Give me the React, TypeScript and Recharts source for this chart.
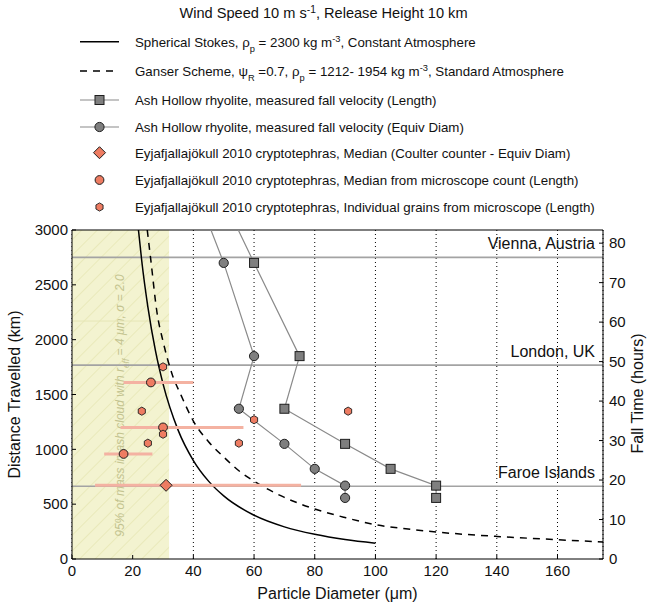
import React from 'react';
import {
  ComposedChart,
  Line,
  Scatter,
  XAxis,
  YAxis,
  CartesianGrid,
  ReferenceLine,
  ReferenceArea,
  ErrorBar,
  Legend,
} from 'recharts';

// ---------------- data ----------------
const xTicks = [0, 20, 40, 60, 80, 100, 120, 140, 160];
const kmTicks = [0, 500, 1000, 1500, 2000, 2500, 3000];
const hourTicks = [0, 10, 20, 30, 40, 50, 60, 70, 80];
const windKmPerHour = 36; // 10 m/s

// Spherical Stokes curve (solid)
const stokesDiam = [21.9, 23, 25, 27.5, 30, 35, 40, 45, 50, 60, 70, 80, 90, 100];
const stokesKm = [3000, 2715, 2300, 1900, 1597, 1173, 898, 710, 575, 399, 293, 225, 177, 144];

// Ganser scheme curve (dashed)
const ganserDiam = [24.8, 26, 28, 30, 33, 36, 40, 45, 50, 55, 60, 70, 80, 90, 100, 110, 120, 140, 160, 175];
const ganserKm = [3000, 2720, 2250, 1985, 1685, 1490, 1257, 1070, 930, 805, 709, 562, 456, 378, 313, 275, 246, 206, 176, 155];

// Ash Hollow rhyolite (Length) - squares; first entry is where the line leaves the top edge
const ashLenLineDiam = [54.8];
const ashLenLineKm = [3000];
const ashLenDiam = [60, 75, 70, 90, 105, 120, 120];
const ashLenKm = [2700, 1850, 1370, 1050, 822, 669, 557];

// Ash Hollow rhyolite (Equiv Diam) - circles
const ashEqLineDiam = [45.8];
const ashEqLineKm = [3000];
const ashEqDiam = [50, 60, 55, 70, 80, 90, 90];
const ashEqKm = [2700, 1850, 1370, 1050, 822, 669, 557];

// Eyjafjallajökull - Coulter counter median (diamond)
const coulterDiam = [31];
const coulterKm = [672];
const coulterLow = [7.6];
const coulterHigh = [75.5];

// Eyjafjallajökull - median from microscope count (circles)
const medianDiam = [26, 30, 17];
const medianKm = [1610, 1200, 958];
const medianLow = [17, 16, 10.6];
const medianHigh = [40, 56.5, 26.5];

// Eyjafjallajökull - individual grains (hexagons)
const grainDiam = [30, 23, 30, 25, 55, 60, 91];
const grainKm = [1752, 1348, 1138, 1056, 1056, 1270, 1348];

// Locations
const placeNames = ['Vienna, Austria', 'London, UK', 'Faroe Islands'];
const placeKm = [2750, 1768, 663];

// faint seam inside the shaded band
const bandMaxDiam = 32;
const bandSeamKm = 2170;

// ---------------- build records ----------------
const pts = (xs: number[], ys: number[]) => xs.map((x, i) => ({ x, y: ys[i] }));
const withErr = (xs: number[], ys: number[], lo: number[], hi: number[]) =>
  xs.map((x, i) => ({ x, y: ys[i], err: [x - lo[i], hi[i] - x] }));

const stokes = pts(stokesDiam, stokesKm);
const ganser = pts(ganserDiam, ganserKm);
const ashLenLine = pts([...ashLenLineDiam, ...ashLenDiam], [...ashLenLineKm, ...ashLenKm]);
const ashLen = pts(ashLenDiam, ashLenKm);
const ashEqLine = pts([...ashEqLineDiam, ...ashEqDiam], [...ashEqLineKm, ...ashEqKm]);
const ashEq = pts(ashEqDiam, ashEqKm);
const coulter = withErr(coulterDiam, coulterKm, coulterLow, coulterHigh);
const medians = withErr(medianDiam, medianKm, medianLow, medianHigh);
const grains = pts(grainDiam, grainKm);

// ---------------- styles ----------------
const SANS = '"Liberation Sans", Arial, Helvetica, sans-serif';
const ORANGE = '#EE7C62';
const EDGE = '#1e1e1e';
const GRAY_FILL = '#7f7f7f';
const GRAY_LINE = '#8a8a8a';
const ERR = '#F4B2A2';
const PLACE_LINE = '#a3a3a3';

const hexPath = (cx: number, cy: number, r: number) => {
  const p: string[] = [];
  for (let k = 0; k < 6; k++) {
    const a = Math.PI / 2 + (k * Math.PI) / 3;
    p.push(`${(cx + r * Math.cos(a)).toFixed(2)},${(cy - r * Math.sin(a)).toFixed(2)}`);
  }
  return 'M' + p.join('L') + 'Z';
};

const squareMark = (cx: number, cy: number) => (
  <rect x={cx - 4.5} y={cy - 4.5} width={9} height={9} fill={GRAY_FILL} stroke={EDGE} strokeWidth={1} />
);
const grayCircleMark = (cx: number, cy: number) => (
  <circle cx={cx} cy={cy} r={4.6} fill={GRAY_FILL} stroke={EDGE} strokeWidth={1} />
);
const diamondMark = (cx: number, cy: number) => (
  <path
    d={`M${cx},${cy - 6}L${cx + 6},${cy}L${cx},${cy + 6}L${cx - 6},${cy}Z`}
    fill={ORANGE}
    stroke={EDGE}
    strokeWidth={1}
  />
);
const medianMark = (cx: number, cy: number) => (
  <circle cx={cx} cy={cy} r={4.4} fill={ORANGE} stroke={EDGE} strokeWidth={1} />
);
const grainMark = (cx: number, cy: number) => (
  <path d={hexPath(cx, cy, 4.1)} fill={ORANGE} stroke={EDGE} strokeWidth={0.9} />
);

const shapeOf = (fn: (cx: number, cy: number) => React.ReactElement) => (props: any) => fn(props.cx, props.cy);

// ---------------- legend ----------------
const legendRows: { y: number; kind: string; text: React.ReactNode }[] = [
  {
    y: 41.7,
    kind: 'solid',
    text: (
      <>
        Spherical Stokes, ρ<tspan baselineShift="sub" fontSize="70%">p</tspan>
        <tspan> = 2300 kg m</tspan>
        <tspan baselineShift="super" fontSize="70%">-3</tspan>
        <tspan>, Constant Atmosphere</tspan>
      </>
    ),
  },
  {
    y: 71,
    kind: 'dashed',
    text: (
      <>
        Ganser Scheme, ψ<tspan baselineShift="sub" fontSize="70%">R</tspan>
        <tspan> =0.7, ρ</tspan>
        <tspan baselineShift="sub" fontSize="70%">p</tspan>
        <tspan> = 1212- 1954 kg m</tspan>
        <tspan baselineShift="super" fontSize="70%">-3</tspan>
        <tspan>, Standard Atmosphere</tspan>
      </>
    ),
  },
  { y: 100, kind: 'square', text: 'Ash Hollow rhyolite, measured fall velocity (Length)' },
  { y: 127, kind: 'circle', text: 'Ash Hollow rhyolite, measured fall velocity (Equiv Diam)' },
  { y: 152.7, kind: 'diamond', text: 'Eyjafjallajökull 2010 cryptotephras, Median (Coulter counter - Equiv Diam)' },
  { y: 180, kind: 'median', text: 'Eyjafjallajökull 2010 cryptotephras, Median from microscope count (Length)' },
  { y: 207, kind: 'hex', text: 'Eyjafjallajökull 2010 cryptotephras, Individual grains from microscope (Length)' },
];

const LegendBox = () => (
  <svg width={647} height={222} style={{ display: 'block' }}>
    <text x={323.5} y={18} textAnchor="middle" fontFamily={SANS} fontSize={14.6} fill="#111">
      Wind Speed 10 m s
      <tspan baselineShift="super" fontSize="70%">-1</tspan>
      <tspan>, Release Height 10 km</tspan>
    </text>
    {legendRows.map((r, i) => {
      const cy = r.y;
      let sym: React.ReactNode = null;
      if (r.kind === 'solid') sym = <line x1={80} x2={119} y1={cy} y2={cy} stroke="#000" strokeWidth={1.5} />;
      else if (r.kind === 'dashed')
        sym = <line x1={80} x2={119} y1={cy} y2={cy} stroke="#000" strokeWidth={1.5} strokeDasharray="7 6" />;
      else if (r.kind === 'square')
        sym = (
          <g>
            <line x1={80} x2={119} y1={cy} y2={cy} stroke={GRAY_LINE} strokeWidth={1.2} />
            {squareMark(99.5, cy)}
          </g>
        );
      else if (r.kind === 'circle')
        sym = (
          <g>
            <line x1={80} x2={119} y1={cy} y2={cy} stroke={GRAY_LINE} strokeWidth={1.2} />
            {grayCircleMark(99.5, cy)}
          </g>
        );
      else if (r.kind === 'diamond') sym = diamondMark(99.5, cy);
      else if (r.kind === 'median') sym = medianMark(99.5, cy);
      else sym = grainMark(99.5, cy);
      return (
        <g key={i}>
          {sym}
          <text x={135} y={cy + 4.8} fontFamily={SANS} fontSize={13.3} fill="#111">
            {r.text}
          </text>
        </g>
      );
    })}
  </svg>
);

// ---------------- labels ----------------
const placeLabel = (name: string) => (props: any) => {
  const vb = props.viewBox || {};
  return (
    <text x={vb.x + vb.width - 8} y={vb.y - 8.5} textAnchor="end" fontFamily={SANS} fontSize={16} fill="#111">
      {name}
    </text>
  );
};

const bandLabel = (props: any) => {
  const vb = props.viewBox || {};
  const cx = vb.x + 52;
  const cy = vb.y + vb.height / 2 + 11;
  return (
    <text
      x={cx}
      y={cy}
      transform={`rotate(-90, ${cx}, ${cy})`}
      textAnchor="middle"
      fontFamily={SANS}
      fontStyle="italic"
      fontSize={12}
      fill="#c3c38f"
    >
      95% of mass in ash cloud with r
      <tspan baselineShift="sub" fontSize="70%">eff</tspan>
      <tspan> = 4 μm, σ = 2.0</tspan>
    </text>
  );
};

const leftAxisLabel = (props: any) => {
  const vb = props.viewBox || {};
  const cx = 20;
  const cy = vb.y + vb.height / 2;
  return (
    <text x={cx} y={cy} transform={`rotate(-90, ${cx}, ${cy})`} textAnchor="middle" fontFamily={SANS} fontSize={16} fill="#111">
      Distance Travelled (km)
    </text>
  );
};

const rightAxisLabel = (props: any) => {
  const vb = props.viewBox || {};
  const cx = 643;
  const cy = vb.y + vb.height / 2 - 1;
  return (
    <text x={cx} y={cy} transform={`rotate(-90, ${cx}, ${cy})`} textAnchor="middle" fontFamily={SANS} fontSize={16} fill="#111">
      Fall Time (hours)
    </text>
  );
};

const bottomAxisLabel = (props: any) => {
  const vb = props.viewBox || {};
  return (
    <text x={vb.x + vb.width / 2} y={599} textAnchor="middle" fontFamily={SANS} fontSize={16} fill="#111">
      Particle Diameter (μm)
    </text>
  );
};

const tickStyle = { fontFamily: SANS, fontSize: 15, fill: '#111' };

export default function App() {
  return (
    <div style={{ position: 'absolute', left: 0, top: 0, width: 647, height: 608, background: '#fff' }}>
      <ComposedChart width={647} height={608} margin={{ top: 8, right: 0, bottom: 0, left: 0 }}>
        <defs>
          <pattern id="bandHatch" patternUnits="userSpaceOnUse" width={11} height={11} patternTransform="rotate(45)">
            <rect x={0} y={0} width={11} height={11} fill="#F3F3D0" />
            <line x1={0} y1={0} x2={0} y2={11} stroke="#E3E3AC" strokeWidth={1.2} />
          </pattern>
        </defs>
        <Legend
          verticalAlign="top"
          align="left"
          wrapperStyle={{ top: 0, left: 0, width: 647, height: 222 }}
          content={() => <LegendBox />}
        />
        <XAxis
          dataKey="x"
          type="number"
          domain={[0, 175]}
          ticks={xTicks}
          allowDataOverflow
          height={49}
          stroke="#000"
          tickSize={-4}
          tickMargin={10}
          tick={tickStyle}
          label={bottomAxisLabel}
        />
        <YAxis
          yAxisId="km"
          dataKey="y"
          type="number"
          domain={[0, 3000]}
          ticks={kmTicks}
          allowDataOverflow
          width={72}
          stroke="#000"
          tickSize={-4}
          tickMargin={8}
          tick={tickStyle}
          label={leftAxisLabel}
        />
        <YAxis
          yAxisId="hours"
          orientation="right"
          type="number"
          domain={[0, 3000 / windKmPerHour]}
          ticks={hourTicks}
          allowDataOverflow
          width={44}
          stroke="#000"
          tickSize={-4}
          tickMargin={10}
          tick={tickStyle}
          label={rightAxisLabel}
        />
        <ReferenceArea
          yAxisId="km"
          x1={0}
          x2={bandMaxDiam}
          y1={0}
          y2={3000}
          fill="url(#bandHatch)"
          fillOpacity={1}
          stroke="none"
          label={bandLabel}
        />
        <ReferenceLine
          yAxisId="km"
          segment={[
            { x: 0, y: bandSeamKm },
            { x: bandMaxDiam, y: bandSeamKm },
          ]}
          stroke="#E6E6B6"
          strokeWidth={1}
        />
        <CartesianGrid yAxisId="km" horizontal={false} stroke="#000" strokeDasharray="1 3" strokeWidth={1} />
        {placeNames.map((n, i) => (
          <ReferenceLine key={n} yAxisId="km" y={placeKm[i]} stroke={PLACE_LINE} strokeWidth={1.6} label={placeLabel(n)} />
        ))}
        <ReferenceLine yAxisId="km" y={3000} stroke="#000" strokeWidth={1.2} />
        <Line
          data={stokes}
          yAxisId="km"
          dataKey="y"
          type="monotoneX"
          stroke="#000"
          strokeWidth={1.5}
          dot={false}
          activeDot={false}
          isAnimationActive={false}
        />
        <Line
          data={ganser}
          yAxisId="km"
          dataKey="y"
          type="monotoneX"
          stroke="#000"
          strokeWidth={1.5}
          strokeDasharray="7 6"
          dot={false}
          activeDot={false}
          isAnimationActive={false}
        />
        <Line
          data={ashLenLine}
          yAxisId="km"
          dataKey="y"
          type="linear"
          stroke={GRAY_LINE}
          strokeWidth={1.2}
          dot={false}
          activeDot={false}
          isAnimationActive={false}
        />
        <Line
          data={ashEqLine}
          yAxisId="km"
          dataKey="y"
          type="linear"
          stroke={GRAY_LINE}
          strokeWidth={1.2}
          dot={false}
          activeDot={false}
          isAnimationActive={false}
        />
        <Scatter data={coulter} yAxisId="km" dataKey="y" shape={shapeOf(diamondMark)} isAnimationActive={false}>
          <ErrorBar dataKey="err" direction="x" width={0} stroke={ERR} strokeWidth={3} isAnimationActive={false} />
        </Scatter>
        <Scatter data={medians} yAxisId="km" dataKey="y" shape={shapeOf(medianMark)} isAnimationActive={false}>
          <ErrorBar dataKey="err" direction="x" width={0} stroke={ERR} strokeWidth={3} isAnimationActive={false} />
        </Scatter>
        <Scatter data={ashLen} yAxisId="km" dataKey="y" shape={shapeOf(squareMark)} isAnimationActive={false} />
        <Scatter data={ashEq} yAxisId="km" dataKey="y" shape={shapeOf(grayCircleMark)} isAnimationActive={false} />
        <Scatter data={grains} yAxisId="km" dataKey="y" shape={shapeOf(grainMark)} isAnimationActive={false} />
      </ComposedChart>
    </div>
  );
}
